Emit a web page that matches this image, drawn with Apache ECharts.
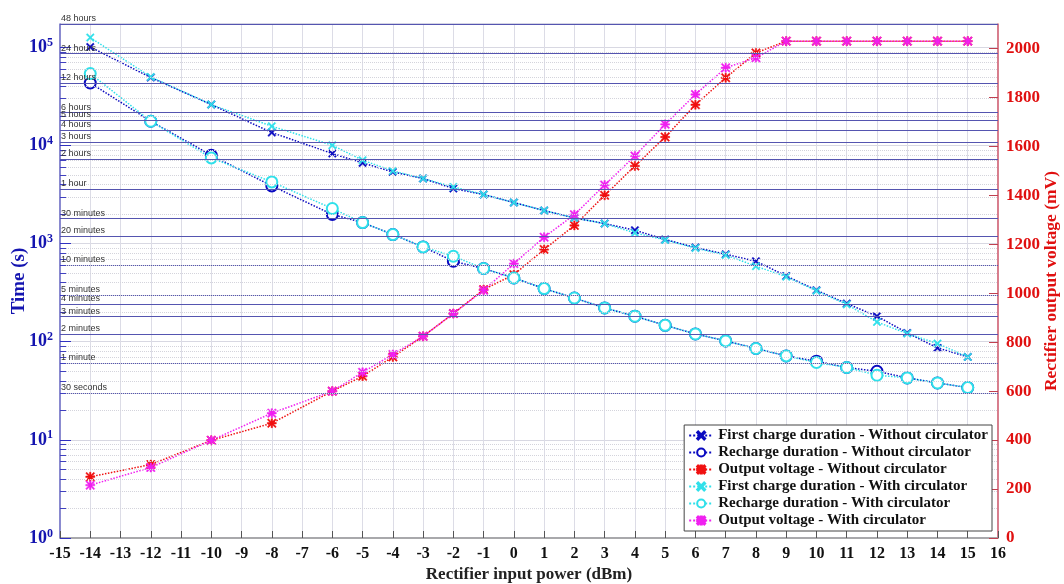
<!DOCTYPE html>
<html>
<head>
<meta charset="utf-8">
<script src="https://cdn.jsdelivr.net/npm/echarts@6/dist/echarts.min.js"></script>
<style>
  html, body { margin: 0; padding: 0; background: #fff; }
  #chart { width: 1064px; height: 584px; }
</style>
</head>
<body>
<div id="chart"></div>
<script>
  // input power (dBm)
  var inputPower = [-14, -12, -10, -8, -6, -5, -4, -3, -2, -1, 0, 1, 2, 3, 4, 5, 6, 7, 8, 9, 10, 11, 12, 13, 14, 15];

  // durations in seconds (left axis, log)
  var firstChargeWithout = [100800, 49200, 26100, 13530, 8270, 6640, 5370, 4600, 3640, 3160, 2620, 2170, 1826, 1600, 1368, 1100, 912, 779, 661, 468, 335, 245, 182, 123, 86.5, 70];
  var rechargeWithout = [43300, 17650, 7950, 3870, 1980, 1639, 1236, 925, 661, 557, 447, 348, 279, 221, 182, 147, 120, 102, 85.3, 71.7, 63.3, 54.6, 50, 42.8, 38, 34.1];
  var firstChargeWith = [125700, 49900, 26100, 15690, 10050, 7070, 5500, 4600, 3780, 3160, 2620, 2170, 1826, 1600, 1284, 1090, 900, 765, 588, 460, 330, 240, 159, 121, 95.8, 70];
  var rechargeWith = [54000, 17650, 7460, 4250, 2276, 1639, 1236, 925, 743, 557, 447, 348, 279, 221, 182, 147, 120, 102, 85.3, 71.7, 61.4, 54.6, 45.6, 42.8, 38, 34.1];

  // output voltage in mV (right axis)
  var voltageWithout = [250, 300, 399, 469, 600, 661, 740, 824, 917, 1015, 1076, 1179, 1277, 1400, 1520, 1638, 1770, 1880, 1982, 2030, 2030, 2030, 2030, 2030, 2030, 2030];
  var voltageWith = [216, 288, 399, 510, 600, 677, 750, 824, 917, 1012, 1121, 1229, 1321, 1442, 1561, 1690, 1812, 1921, 1962, 2030, 2030, 2030, 2030, 2030, 2030, 2030];

  // reference time lines
  var timeLabels = ['48 hours', '24 hours', '12 hours', '6 hours', '5 hours', '4 hours', '3 hours', '2 hours', '1 hour',
    '30 minutes', '20 minutes', '10 minutes', '5 minutes', '4 minutes', '3 minutes', '2 minutes', '1 minute', '30 seconds'];
  var timeSeconds = [172800, 86400, 43200, 21600, 18000, 14400, 10800, 7200, 3600,
    1800, 1200, 600, 300, 240, 180, 120, 60, 30];

  var serif = 'Liberation Serif';
  var crossSym = 'path://M0,1.3L1.3,0L5,3.7L8.7,0L10,1.3L6.3,5L10,8.7L8.7,10L5,6.3L1.3,10L0,8.7L3.7,5Z';
  var starSym = 'path://M4.2,0L5.8,0L5.8,4.2L10,4.2L10,5.8L5.8,5.8L5.8,10L4.2,10L4.2,5.8L0,5.8L0,4.2L4.2,4.2Z' +
    'M0,1.1L1.1,0L5,3.9L8.9,0L10,1.1L6.1,5L10,8.9L8.9,10L5,6.1L1.1,10L0,8.9L3.9,5Z';

  function pairs(arr) {
    return inputPower.map(function (x, i) { return [x, arr[i]]; });
  }

  // minor log grid + ticks (2..9 x 10^n)
  var minorGrid = [];
  var minorTicks = [];
  for (var n = 0; n < 6; n++) {
    for (var m = 2; m < 10; m++) {
      var v = m * Math.pow(10, n);
      if (v > 172800) continue;
      minorGrid.push({ yAxis: v });
      minorTicks.push([{ coord: [-15, v] }, { coord: [-14.8, v] }]);
    }
  }

  var chart = echarts.init(document.getElementById('chart'));

  function lineSeries(name, data, color, symbol, size, yIdx) {
    return {
      name: name,
      type: 'line',
      yAxisIndex: yIdx,
      data: pairs(data),
      symbol: symbol,
      symbolSize: size,
      showAllSymbol: true,
      lineStyle: { color: color, width: 1.5, type: 'dotted' },
      itemStyle: { color: color, borderColor: color, borderWidth: symbol === 'emptyCircle' ? 2 : 0.5 }
    };
  }

  var series = [
    lineSeries('First charge duration - Without circulator', firstChargeWithout, '#0a0ac0', crossSym, 8, 0),
    lineSeries('Recharge duration - Without circulator', rechargeWithout, '#0a0ac0', 'emptyCircle', 11, 0),
    lineSeries('Output voltage - Without circulator', voltageWithout, '#f01010', starSym, 9, 1),
    lineSeries('First charge duration - With circulator', firstChargeWith, '#30e0ea', crossSym, 8, 0),
    lineSeries('Recharge duration - With circulator', rechargeWith, '#30e0ea', 'emptyCircle', 11, 0),
    lineSeries('Output voltage - With circulator', voltageWith, '#f020f0', starSym, 9, 1)
  ];

  // time reference lines
  series[0].markLine = {
    silent: true,
    symbol: 'none',
    animation: false,
    lineStyle: { color: '#5555b0', width: 1, type: 'solid' },
    label: {
      show: true,
      position: 'insideStartTop',
      distance: [1, 1],
      formatter: '{b}',
      color: '#333',
      fontSize: 9,
      fontFamily: 'Liberation Sans'
    },
    data: timeSeconds.map(function (s, i) { return { yAxis: s, name: timeLabels[i] }; })
  };
  // minor dotted grid
  series[1].markLine = {
    silent: true,
    symbol: 'none',
    animation: false,
    label: { show: false },
    lineStyle: { color: '#d4d4dc', width: 1, type: 'dotted' },
    data: minorGrid
  };
  // minor ticks on the left axis
  series[4].markLine = {
    silent: true,
    symbol: 'none',
    animation: false,
    label: { show: false },
    lineStyle: { color: '#4040c0', width: 1, type: 'solid' },
    data: minorTicks
  };

  var option = {
    animation: false,
    backgroundColor: '#fff',
    grid: {
      left: 60, right: 66, top: 24, bottom: 46,
      containLabel: false,
      outerBoundsMode: 'none',
      show: true, borderColor: '#a8a8c8', borderWidth: 1
    },
    legend: {
      orient: 'vertical',
      right: 72,
      top: 425,
      z: 20,
      itemWidth: 24,
      itemHeight: 10,
      itemGap: 2,
      padding: [3, 4],
      backgroundColor: '#fff',
      borderColor: '#444',
      borderWidth: 1,
      textStyle: { fontFamily: serif, fontWeight: 'bold', fontSize: 15, color: '#111' },
      data: series.map(function (s) { return s.name; })
    },
    xAxis: {
      type: 'value',
      min: -15,
      max: 16,
      interval: 1,
      name: 'Rectifier input power (dBm)',
      nameLocation: 'middle',
      nameGap: 28,
      nameMoveOverlap: false,
      nameTextStyle: { fontFamily: serif, fontWeight: 'bold', fontSize: 17, color: '#222' },
      axisLine: { onZero: false, lineStyle: { color: '#999', width: 1.5 } },
      axisTick: { inside: true, length: 7, lineStyle: { color: '#555' } },
      axisLabel: { fontFamily: serif, fontWeight: 'bold', fontSize: 16, color: '#111', margin: 8 },
      splitLine: { show: true, lineStyle: { color: '#dcdce6', width: 1 } }
    },
    yAxis: [
      {
        type: 'log',
        logBase: 10,
        min: 1,
        max: 172800,
        position: 'left',
        name: 'Time (s)',
        nameLocation: 'middle',
        nameRotate: 90,
        nameGap: 31,
        nameMoveOverlap: false,
        nameTextStyle: { fontFamily: serif, fontWeight: 'bold', fontSize: 19, color: '#1414b0' },
        axisLine: { show: true, onZero: false, lineStyle: { color: '#7070c8', width: 1.5 } },
        axisTick: { inside: true, length: 11, lineStyle: { color: '#3030c0' } },
        axisLabel: {
          showMaxLabel: false,
          margin: 7,
          formatter: function (v) {
            var e = Math.round(Math.log10(v));
            return '{b|10}{s|' + e + '}';
          },
          rich: {
            b: { fontFamily: serif, fontWeight: 'bold', fontSize: 18, color: '#1414b0' },
            s: { fontFamily: serif, fontWeight: 'bold', fontSize: 12, color: '#1414b0', verticalAlign: 'top', padding: [0, 0, 9, 0] }
          }
        },
        splitLine: { show: true, lineStyle: { color: '#d8d8e2', width: 1 } }
      },
      {
        type: 'value',
        min: 0,
        max: 2100,
        interval: 200,
        position: 'right',
        name: 'Rectifier output voltage (mV)',
        nameLocation: 'middle',
        nameRotate: 90,
        nameGap: 44,
        nameMoveOverlap: false,
        nameTextStyle: { fontFamily: serif, fontWeight: 'bold', fontSize: 17.5, color: '#e01010' },
        axisLine: { show: true, onZero: false, lineStyle: { color: '#d86070', width: 1.5 } },
        axisTick: { inside: true, length: 9, lineStyle: { color: '#c04050' } },
        axisLabel: {
          showMaxLabel: false, fontFamily: serif, fontWeight: 'bold', fontSize: 17, color: '#e01010', margin: 8,
          formatter: function (v) { return String(v); }
        },
        splitLine: { show: false }
      }
    ],
    series: series
  };

  chart.setOption(option);
</script>
</body>
</html>
